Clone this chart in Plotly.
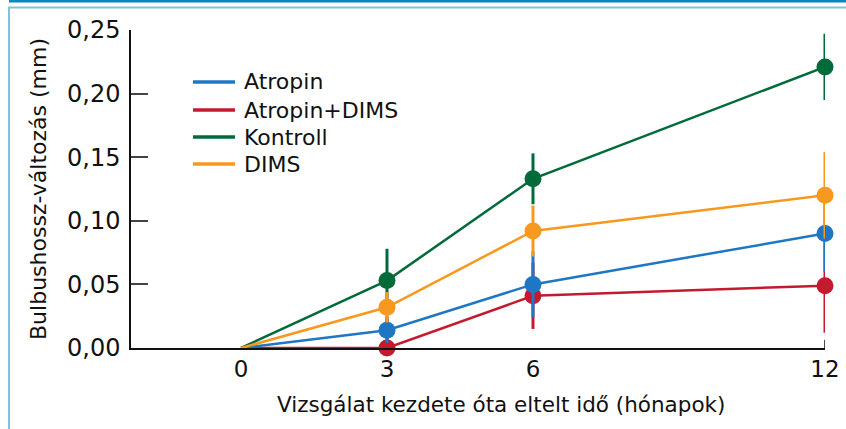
import plotly.graph_objects as go

months = [0, 3, 6, 12]
x_ticks = [0, 3, 6, 12]
y_ticks = [0, 0.05, 0.10, 0.15, 0.20, 0.25]

series_names = ["Atropin", "Atropin+DIMS", "Kontroll", "DIMS"]
atropin = [0, 0.014, 0.050, 0.090]
atropin_dims = [0, 0.000, 0.041, 0.049]
kontroll = [0, 0.053, 0.133, 0.221]
dims = [0, 0.032, 0.092, 0.120]

atropin_err = [0, 0.010, 0.026, 0.030]
atropin_dims_err = [0, 0.025, 0.026, 0.037]
kontroll_err = [0, 0.025, 0.020, 0.026]
dims_err = [0, 0.012, 0.020, 0.034]

x_title = "Vizsgálat kezdete óta eltelt idő (hónapok)"
y_title = "Bulbushossz-változás (mm)"

colors = {
    "Atropin": "#1f77c4",
    "Atropin+DIMS": "#c41a2e",
    "Kontroll": "#006b3a",
    "DIMS": "#f7981f",
}

data = {
    "Atropin": (atropin, atropin_err),
    "Atropin+DIMS": (atropin_dims, atropin_dims_err),
    "Kontroll": (kontroll, kontroll_err),
    "DIMS": (dims, dims_err),
}

FONT = "DejaVu Sans"
W, H = 846, 429
L, R, T, B = 131, 21, 30, 81
PW, PH = W - L - R, H - T - B


def px_x(p):
    return (p - L) / PW


def px_y(p):
    return (H - B - p) / PH


fig = go.Figure()
for name in ["Atropin+DIMS", "Atropin", "Kontroll", "DIMS"]:
    vals, err = data[name]
    fig.add_trace(go.Scatter(
        x=months, y=vals, name=name, mode="lines+markers",
        showlegend=False,
        line=dict(color=colors[name], width=2.5),
        marker=dict(color=colors[name], size=[0, 17, 17, 17], opacity=1,
                    line=dict(width=0)),
        error_y=dict(type="data", array=err, visible=True, color=colors[name],
                     thickness=3, width=0),
        cliponaxis=False,
    ))

fig.update_layout(
    width=W, height=H,
    margin=dict(l=L, r=R, t=T, b=B),
    paper_bgcolor="white", plot_bgcolor="white",
    separators=", ",
    font=dict(family=FONT, size=22, color="#111111"),
    showlegend=False,
    xaxis=dict(range=[-2.26, 12], tickvals=x_ticks, ticktext=[str(v) for v in x_ticks],
               showgrid=False, zeroline=False, showline=True, linecolor="#111111",
               linewidth=1.5, ticks="", ticklabelstandoff=0, automargin=False,
               tickfont=dict(size=23, family=FONT)),
    yaxis=dict(range=[0, 0.25], tickvals=y_ticks, tickformat=".2f",
               showgrid=False, zeroline=False, showline=True, linecolor="#111111",
               linewidth=1.5, ticks="inside", ticklen=17, tickcolor="#444444",
               tickwidth=1.5, ticklabelstandoff=4, automargin=False,
               tickfont=dict(size=24, family=FONT),
               title=dict(text=y_title,
                          font=dict(size=22, family=FONT), standoff=14)),
)

# x-axis title (placed as in the reference, slightly right of plot centre)
fig.add_annotation(xref="paper", yref="paper", x=px_x(501), y=px_y(404),
                   xanchor="center", yanchor="middle", showarrow=False,
                   text=x_title, font=dict(size=21.5, family=FONT, color="#111111"))

# legend (lines + labels)
legend_rows = [82, 110, 137, 164]
for name, row in zip(series_names, legend_rows):
    fig.add_shape(type="line", xref="paper", yref="paper",
                  x0=px_x(193), x1=px_x(235), y0=px_y(row), y1=px_y(row),
                  line=dict(color=colors[name], width=3.5))
    fig.add_annotation(xref="paper", yref="paper", x=px_x(242), y=px_y(row),
                       xanchor="left", yanchor="middle", showarrow=False,
                       text=name, font=dict(size=22, family=FONT, color="#111111"))

# small end tick at 12 months
fig.add_shape(type="line", xref="x", yref="y", x0=12, x1=12, y0=0, y1=0.0065,
              line=dict(color="#111111", width=1.5))

# decorative frame lines
fig.add_shape(type="line", xref="paper", yref="paper", x0=px_x(9), x1=px_x(W),
              y0=px_y(1), y1=px_y(1), line=dict(color="#0a87bd", width=3))
fig.add_shape(type="line", xref="paper", yref="paper", x0=px_x(8), x1=px_x(W),
              y0=px_y(7.5), y1=px_y(7.5), line=dict(color="#7cc3df", width=2))
fig.add_shape(type="line", xref="paper", yref="paper", x0=px_x(9), x1=px_x(9),
              y0=px_y(7.5), y1=px_y(H), line=dict(color="#7cc3df", width=2))

fig.write_html("out.html", config={"displayModeBar": False},
               post_script="document.body.style.margin='0';")
